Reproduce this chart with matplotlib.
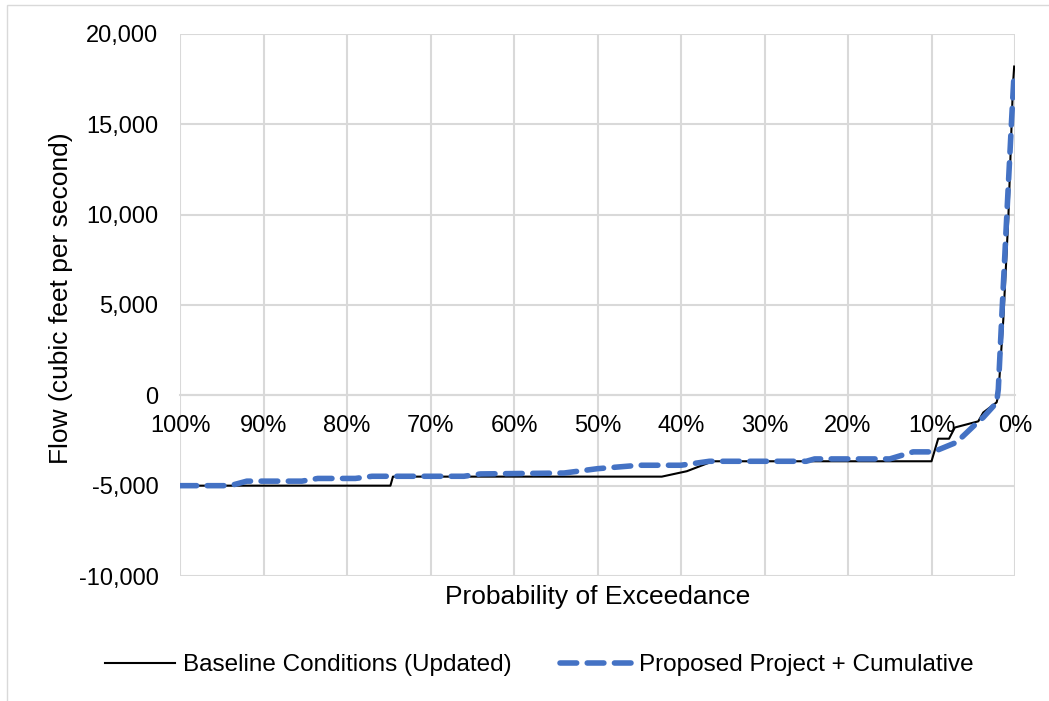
import matplotlib.pyplot as plt
from matplotlib.ticker import FuncFormatter, MultipleLocator

plt.rcParams['font.family'] = ['Liberation Sans', 'DejaVu Sans']

# probability of exceedance (%) and flow (cfs)
base_p = [100, 74.8, 74.5, 42.3, 39.3, 36.2, 10.0, 9.2, 7.9, 7.2, 4.4, 3.8, 2.2, 2.0, 1.4, 0.8, 0.24, 0.1]
base_q = [-5000, -5000, -4500, -4500, -4200, -3650, -3650, -2400, -2400, -1780, -1440, -950, -390, 0,
          4200, 9800, 17200, 18200]

prop_p = [100, 94, 92, 85.4, 83.5, 79, 77, 66, 64, 54, 50, 45, 40, 36.6, 25, 24, 15, 12.2, 9.8, 7.0,
          4.5, 3.8, 2.2, 2.0, 1.6, 1.0, 0.4, 0.1]
prop_q = [-5000, -5000, -4750, -4750, -4600, -4600, -4480, -4480, -4350, -4300, -4060, -3870, -3870,
          -3650, -3650, -3520, -3520, -3130, -3130, -2600, -1500, -1220, -400, 330, 4200, 9800, 15300, 17900]

x_ticks = [100, 90, 80, 70, 60, 50, 40, 30, 20, 10, 0]

fig = plt.figure(figsize=(10.49, 7.01), dpi=100)
# axes box: x 180..1015 px, y 34..576 px
ax = fig.add_axes([180 / 1049, 1 - 576 / 701, 835 / 1049, 542 / 701])

grid_c = '#d9d9d9'
ax.plot(base_p, base_q, color='black', lw=1.5, label='Baseline Conditions (Updated)', zorder=3)
ax.plot(prop_p, prop_q, color='#4472c4', lw=4, ls=(0, (3.0, 1.9)), dash_capstyle='round',
        label='Proposed Project + Cumulative', zorder=4)

ax.set_xlim(100, 0)
ax.set_ylim(-10000, 20000)
ax.set_xticks(x_ticks)
ax.xaxis.set_major_formatter(FuncFormatter(lambda v, _: f'{v:.0f}%'))
ax.yaxis.set_major_locator(MultipleLocator(5000))
ax.yaxis.set_major_formatter(FuncFormatter(lambda v, _: f'{v:,.0f}'))

ax.grid(True, color=grid_c, lw=1.5)
ax.set_axisbelow(True)
for s in ['top', 'right', 'left']:
    ax.spines[s].set_visible(False)
ax.spines['bottom'].set_position(('data', 0))
ax.spines['bottom'].set_color(grid_c)
ax.spines['bottom'].set_linewidth(1.5)
ax.tick_params(axis='both', length=0, labelsize=17, colors='black')
ax.tick_params(axis='x', pad=14)
ax.tick_params(axis='y', pad=15.5)
for lab in ax.get_xticklabels():
    lab.set_zorder(5)

ax.set_xlabel('Probability of Exceedance', fontsize=19)
ax.xaxis.set_label_coords(0.5, -0.016)
ax.set_ylabel('Flow (cubic feet per second)', fontsize=19)
ax.yaxis.set_label_coords(-0.128, 0.513)

fig.legend(handles=ax.get_lines(), loc='center', bbox_to_anchor=(0.514, 1 - 665 / 701), ncol=2,
           frameon=False, fontsize=17.5, handlelength=2.9, columnspacing=2.0, handletextpad=0.33,
           borderaxespad=0, borderpad=0)

# chart border (only left and top edges fall inside the image)
fig.patches.append(plt.Rectangle((7 / 1049, -0.1), 1.2, 1.1 - 5 / 701, transform=fig.transFigure,
                                 fill=False, edgecolor='#d9d9d9', lw=1))

fig.savefig('out.png', dpi=100)
